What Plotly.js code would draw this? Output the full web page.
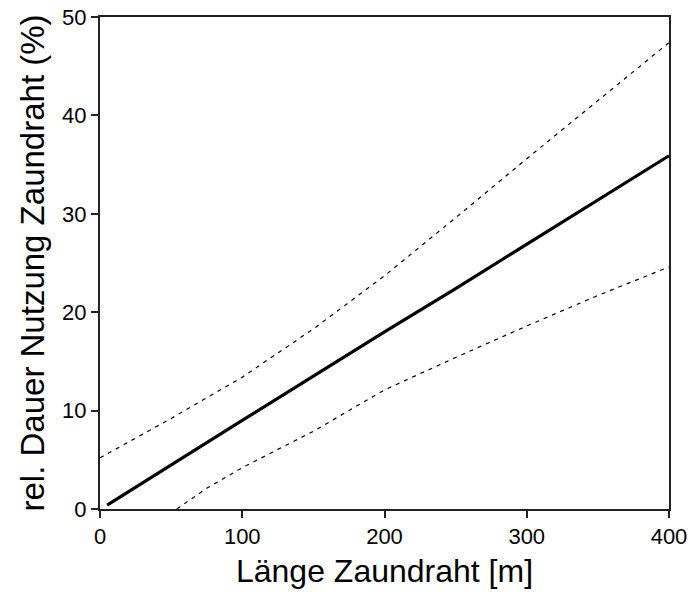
<!DOCTYPE html>
<html>
<head>
<meta charset="utf-8">
<script src="https://cdn.plot.ly/plotly-3.0.1.min.js"></script>
<style>html,body{margin:0;padding:0;background:#fff;}#chart{width:689px;height:599px;}</style>
</head>
<body>
<div id="chart"></div>
<script>
// Fitted line
var fitX = [5, 50, 100, 150, 200, 250, 300, 350, 400];
var fitY = [0.4, 4.5, 9.0, 13.5, 18.0, 22.4, 26.9, 31.4, 35.9];
// Upper confidence band
var upperX = [0, 50, 100, 150, 200, 250, 300, 350, 400];
var upperY = [5.2, 9.2, 13.4, 18.3, 23.7, 29.6, 35.6, 41.5, 47.4];
// Lower confidence band
var lowerX = [54, 75, 100, 150, 200, 250, 300, 350, 400];
var lowerY = [0.0, 2.1, 4.2, 7.9, 12.1, 15.4, 18.6, 21.7, 24.6];

var xTicks = [0, 100, 200, 300, 400];
var yTicks = [0, 10, 20, 30, 40, 50];

var traces = [
  {x: upperX, y: upperY, mode: 'lines', line: {color: '#000', width: 1.2, dash: '4px,5px'}, hoverinfo: 'none'},
  {x: lowerX, y: lowerY, mode: 'lines', line: {color: '#000', width: 1.2, dash: '4px,5px'}, hoverinfo: 'none'},
  {x: fitX, y: fitY, mode: 'lines', line: {color: '#000', width: 3.2}, hoverinfo: 'none'}
];

var FONT = 'Liberation Sans, Arial, sans-serif';
var axisCommon = {
  showgrid: false, zeroline: false, showline: true, linecolor: '#222', linewidth: 2,
  mirror: true, ticks: 'outside', ticklen: 7, tickwidth: 2, tickcolor: '#222',
  tickfont: {family: FONT, size: 22, color: '#000'}
};

var layout = {
  width: 689, height: 599,
  margin: {l: 100, r: 20, t: 17, b: 90},
  paper_bgcolor: '#fff', plot_bgcolor: '#fff',
  showlegend: false,
  xaxis: Object.assign({}, axisCommon, {
    range: [0, 400], tickvals: xTicks, ticktext: xTicks.map(String),
    title: {text: 'Länge Zaundraht [m]', standoff: 11,
      font: {family: FONT, size: 32, color: '#000'}}
  }),
  yaxis: Object.assign({}, axisCommon, {
    range: [0, 50], tickvals: yTicks, ticktext: yTicks.map(String),
    title: {text: 'rel. Dauer Nutzung Zaundraht (%)', standoff: 8,
      font: {family: FONT, size: 33, color: '#000'}}
  })
};

Plotly.newPlot('chart', traces, layout, {staticPlot: true, displayModeBar: false});
</script>
</body>
</html>
